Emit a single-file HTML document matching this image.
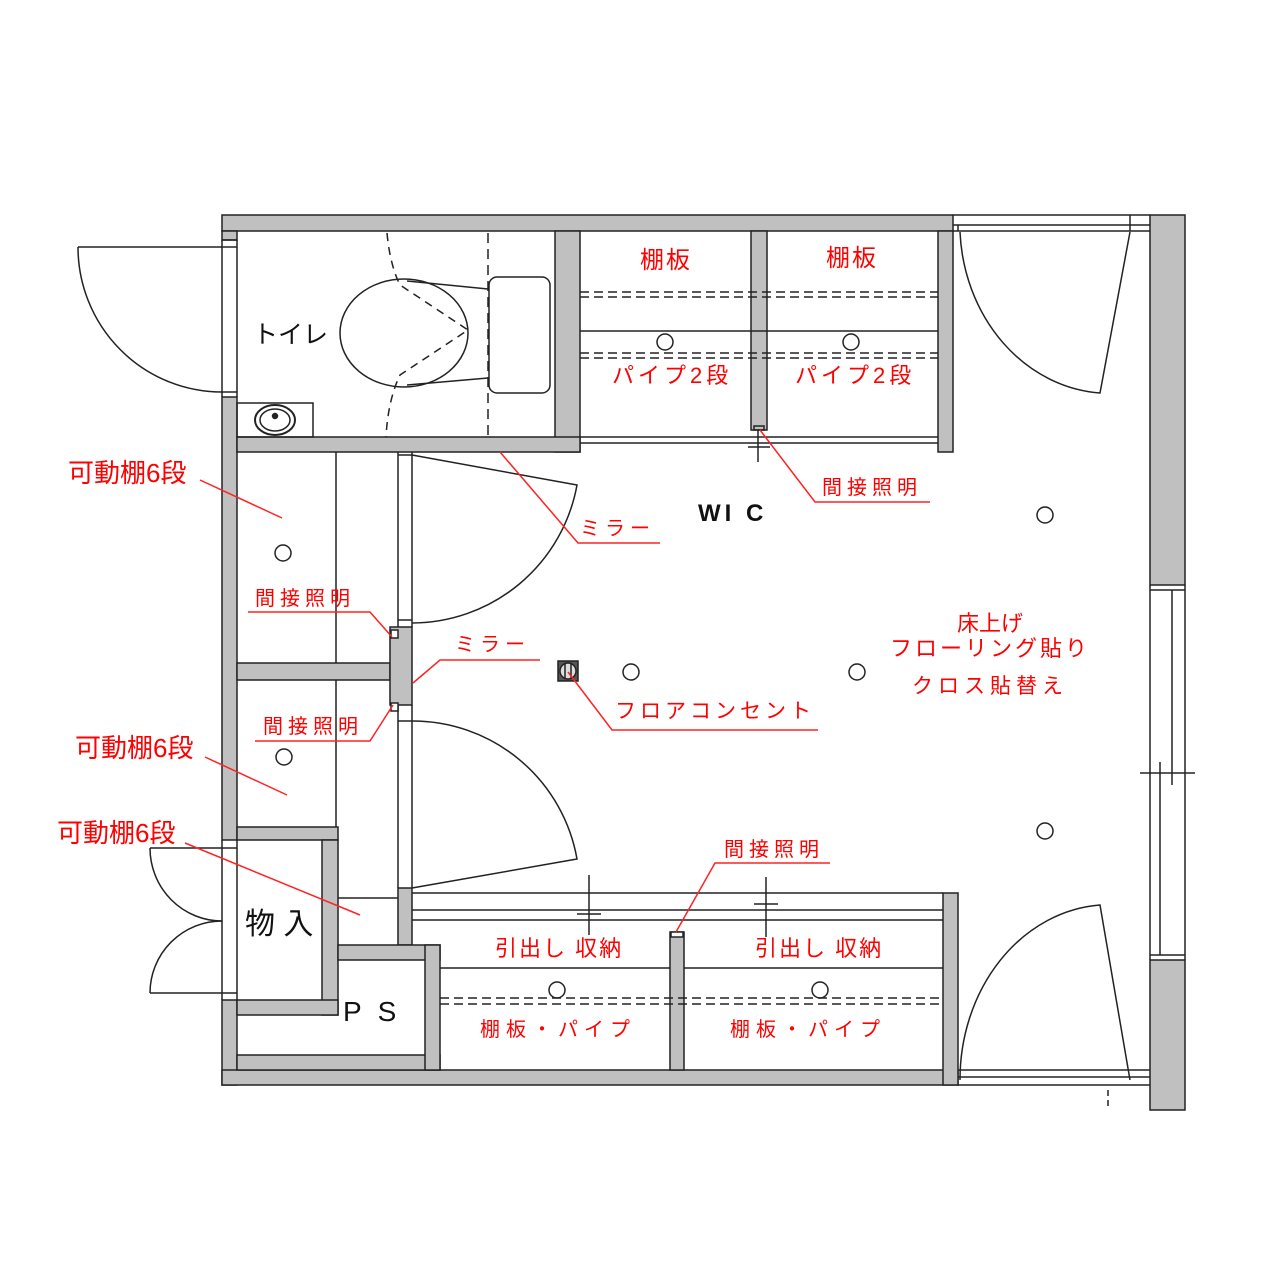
<!DOCTYPE html>
<html><head><meta charset="utf-8"><style>
html,body{margin:0;padding:0;background:#fff;}
svg{display:block;}
.r{fill:#f00;font-family:"Liberation Sans","Noto Sans CJK JP",sans-serif;}
.k{fill:#111;font-family:"Liberation Sans","Noto Sans CJK JP",sans-serif;}
</style></head><body>
<svg width="1287" height="1285" viewBox="0 0 1287 1285" xmlns="http://www.w3.org/2000/svg">
<g stroke="#222" stroke-width="1.5" fill="#c0c0c0">
<rect x="222" y="215" width="731" height="16"/>
<rect x="222" y="231" width="15" height="9"/>
<rect x="222" y="397" width="15" height="443"/>
<rect x="222" y="1000" width="15" height="85"/>
<rect x="222" y="1070" width="736" height="15"/>
<rect x="1150" y="215" width="35" height="370"/>
<rect x="1150" y="960" width="35" height="150"/>
<rect x="555" y="231" width="25" height="221"/>
<rect x="237" y="437" width="343" height="15"/>
<rect x="751" y="231" width="16" height="199"/>
<rect x="938" y="231" width="15" height="221"/>
<rect x="237" y="663" width="153" height="17"/>
<rect x="390" y="627" width="22" height="78"/>
<rect x="237" y="827" width="101" height="13"/>
<rect x="322" y="840" width="16" height="175"/>
<rect x="237" y="1000" width="101" height="15"/>
<rect x="237" y="1055" width="203" height="15"/>
<rect x="398" y="888" width="14" height="57"/>
<rect x="338" y="945" width="102" height="15"/>
<rect x="425" y="945" width="15" height="125"/>
<rect x="670" y="932" width="14" height="138"/>
<rect x="943" y="893" width="15" height="192"/>
</g>
<g stroke="#222" stroke-width="1.5" fill="none">
<line x1="222" y1="240" x2="237" y2="240"/><line x1="222" y1="247" x2="237" y2="247"/>
<line x1="222" y1="240" x2="222" y2="397"/><line x1="237" y1="240" x2="237" y2="397"/>
<line x1="222" y1="392" x2="237" y2="392"/>
<line x1="78" y1="247" x2="222" y2="247"/>
<path d="M78 247 A144 145 0 0 0 222 392"/>
<line x1="222" y1="840" x2="222" y2="1000"/><line x1="237" y1="840" x2="237" y2="1000"/>
<line x1="150" y1="848" x2="237" y2="848"/>
<path d="M150 848 A72 73 0 0 0 222 921"/>
<path d="M222 921 A72 72 0 0 0 150 993"/>
<line x1="150" y1="993" x2="237" y2="993"/>
<ellipse cx="404" cy="333" rx="64" ry="54"/>
<path d="M407 281 L488 289 M407 385 L488 378"/>
<rect x="489" y="277" width="61" height="116" rx="8"/>
<path d="M387 233 Q390 265 400 285 L468 330 L400 375 Q388 400 386 437" stroke-dasharray="8 6"/>
<line x1="488" y1="233" x2="488" y2="437" stroke-dasharray="10 6"/>
<rect x="237" y="403" width="76" height="34"/>
<ellipse cx="275" cy="420" rx="20" ry="15" stroke-width="2"/>
<ellipse cx="275" cy="420" rx="15" ry="11"/>
<circle cx="275" cy="416" r="2.5" fill="#222"/>
<line x1="580" y1="331" x2="938" y2="331"/>
<line x1="580" y1="437" x2="938" y2="437"/><line x1="580" y1="443" x2="938" y2="443"/>
<line x1="580" y1="292" x2="938" y2="292" stroke-dasharray="9 5"/>
<line x1="580" y1="297" x2="938" y2="297" stroke-dasharray="9 5"/>
<line x1="580" y1="353" x2="938" y2="353" stroke-dasharray="9 5"/>
<line x1="580" y1="358" x2="938" y2="358" stroke-dasharray="9 5"/>
<line x1="758" y1="430" x2="758" y2="462"/><line x1="748" y1="447" x2="770" y2="447"/>
<rect x="754" y="426" width="10" height="4"/>
<line x1="953" y1="231" x2="1150" y2="231"/><line x1="953" y1="225" x2="1150" y2="225"/>
<line x1="958" y1="225" x2="958" y2="231"/><line x1="1130" y1="215" x2="1130" y2="231"/><line x1="953" y1="215" x2="1150" y2="215"/>
<path d="M960 232 A150 170 0 0 0 1100 393 L1130 232"/>
<line x1="958" y1="1070" x2="1150" y2="1070"/><line x1="958" y1="1077" x2="1150" y2="1077"/><line x1="958" y1="1085" x2="1150" y2="1085"/>
<path d="M960 1080 A150 175 0 0 1 1100 905 L1130 1080"/>
<line x1="1108" y1="1090" x2="1108" y2="1110" stroke-dasharray="6 4"/>
<line x1="1150" y1="585" x2="1150" y2="960"/><line x1="1185" y1="585" x2="1185" y2="960"/>
<line x1="1150" y1="590" x2="1185" y2="590"/><line x1="1150" y1="955" x2="1185" y2="955"/>
<line x1="1172" y1="590" x2="1172" y2="785"/><line x1="1160" y1="762" x2="1160" y2="955"/>
<line x1="1140" y1="773" x2="1195" y2="773"/>
<line x1="336" y1="452" x2="336" y2="663"/><line x1="336" y1="680" x2="336" y2="827"/>
<line x1="398" y1="452" x2="398" y2="627"/><line x1="398" y1="705" x2="398" y2="888"/>
<line x1="412" y1="452" x2="412" y2="627"/><line x1="412" y1="705" x2="412" y2="888"/>
<line x1="398" y1="455" x2="412" y2="455"/><line x1="398" y1="620" x2="412" y2="620"/>
<line x1="398" y1="721" x2="412" y2="721"/><line x1="338" y1="898" x2="398" y2="898"/>
<rect x="391" y="630" width="7" height="8" fill="#fff"/><rect x="391" y="703" width="7" height="8" fill="#fff"/>
<path d="M412 455 L577 485 A168 168 0 0 1 412 623"/>
<path d="M412 721 A167 167 0 0 1 577 859 L412 888"/>
<line x1="412" y1="893" x2="943" y2="893"/><line x1="412" y1="910" x2="943" y2="910"/><line x1="412" y1="920" x2="943" y2="920"/>
<line x1="440" y1="968" x2="670" y2="968"/><line x1="684" y1="968" x2="943" y2="968"/>
<line x1="440" y1="998" x2="943" y2="998" stroke-dasharray="9 5"/>
<line x1="440" y1="1004" x2="943" y2="1004" stroke-dasharray="9 5"/>
<line x1="589" y1="875" x2="589" y2="935"/><line x1="577" y1="914" x2="601" y2="914"/>
<line x1="766" y1="877" x2="766" y2="937"/><line x1="754" y1="904" x2="778" y2="904"/>
<rect x="671" y="932" width="12" height="5" fill="#fff"/>
<rect x="558" y="661" width="20" height="20" fill="#555"/>
<circle cx="568" cy="671" r="8" fill="#ddd"/>
<line x1="565" y1="663" x2="565" y2="679"/><line x1="571" y1="663" x2="571" y2="679"/>
<circle cx="283" cy="553" r="8"/><circle cx="284" cy="757" r="8"/>
<circle cx="665" cy="342" r="8"/><circle cx="851" cy="342" r="8"/>
<circle cx="631" cy="672" r="8"/><circle cx="857" cy="672" r="8"/>
<circle cx="1045" cy="515" r="8"/><circle cx="1045" cy="831" r="8"/>
<circle cx="557" cy="990" r="8"/><circle cx="820" cy="990" r="8"/>
</g>
<g stroke="#f22" stroke-width="1.5" fill="none">
<path d="M200 480 L282 518"/>
<path d="M205 757 L287 795"/>
<path d="M185 843 L360 915"/>
<path d="M500 452 L578 543 L660 543"/>
<path d="M760 430 L815 502 L930 502"/>
<path d="M248 612 L370 612 L392 637"/>
<path d="M540 660 L440 660 L413 683"/>
<path d="M255 741 L370 741 L393 705"/>
<path d="M568 672 L612 730 L818 730"/>
<path d="M830 863 L715 863 L676 932"/>
</g>
<text class="k" x="253" y="343" style="font-size:25px">トイレ</text>
<text class="k" x="698" y="521" style="font-size:24px;font-weight:bold;letter-spacing:4px">WI  C</text>
<text class="k" x="245" y="934" style="font-size:30px">物 入</text>
<text class="k" x="343" y="1021" style="font-size:28px;letter-spacing:16px">PS</text>
<text class="r" x="640" y="268" style="font-size:24px;letter-spacing:2px">棚板</text>
<text class="r" x="826" y="266" style="font-size:24px;letter-spacing:2px">棚板</text>
<text class="r" x="612" y="383" style="font-size:22px;letter-spacing:4px">パイプ2段</text>
<text class="r" x="795" y="383" style="font-size:22px;letter-spacing:4px">パイプ2段</text>
<text class="r" x="822" y="494" style="font-size:20px;letter-spacing:5px">間接照明</text>
<text class="r" x="580" y="535" style="font-size:20px;letter-spacing:5px">ミラー</text>
<text class="r" x="455" y="651" style="font-size:20px;letter-spacing:5px">ミラー</text>
<text class="r" x="255" y="605" style="font-size:20px;letter-spacing:5px">間接照明</text>
<text class="r" x="263" y="733" style="font-size:20px;letter-spacing:5px">間接照明</text>
<text class="r" x="724" y="856" style="font-size:20px;letter-spacing:5px">間接照明</text>
<text class="r" x="68" y="482" style="font-size:26px">可動棚6段</text>
<text class="r" x="75" y="757" style="font-size:26px">可動棚6段</text>
<text class="r" x="57" y="842" style="font-size:26px">可動棚6段</text>
<text class="r" x="615" y="718" style="font-size:21px;letter-spacing:4px">フロアコンセント</text>
<text class="r" x="990" y="631" text-anchor="middle" style="font-size:22px">床上げ</text>
<text class="r" x="990" y="656" text-anchor="middle" style="font-size:22px;letter-spacing:3px">フローリング貼り</text>
<text class="r" x="990" y="693" text-anchor="middle" style="font-size:21px;letter-spacing:5px">クロス貼替え</text>
<text class="r" x="495" y="956" style="font-size:22px;letter-spacing:2px">引出し 収納</text>
<text class="r" x="755" y="956" style="font-size:22px;letter-spacing:2px">引出し 収納</text>
<text class="r" x="480" y="1036" style="font-size:20px;letter-spacing:6px">棚板・パイプ</text>
<text class="r" x="730" y="1036" style="font-size:20px;letter-spacing:6px">棚板・パイプ</text>
</svg>
</body></html>
